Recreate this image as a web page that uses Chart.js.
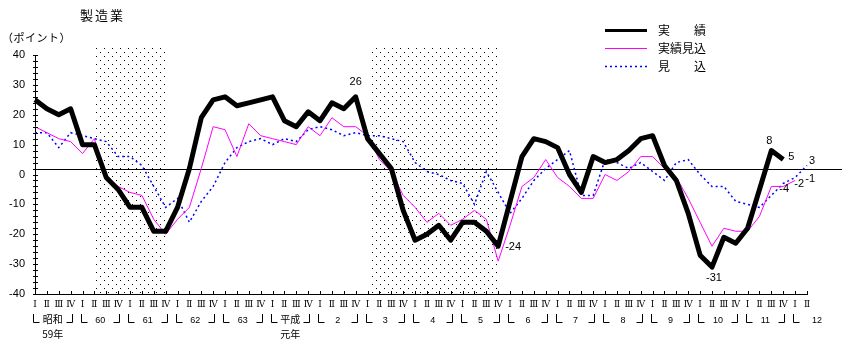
<!DOCTYPE html>
<html><head><meta charset="utf-8">
<script src="https://cdn.jsdelivr.net/npm/chart.js@4/dist/chart.umd.min.js"></script>
<style>html,body{margin:0;padding:0;background:#fff}#wrap{width:850px;height:348px;position:relative}</style>
</head><body><div id="wrap"><canvas id="c" width="850" height="348"></canvas></div>
<script>
// ---- data ----
const chartTitle = '製造業';
const unitLabel = '（ポイント）';
const seriesNames = ['実　　績', '実績見込', '見　　込'];
const eraYears = ['昭和','60','61','62','63','平成','2','3','4','5','6','7','8','9','10','11','12'];
const eraSubLabels = ['59年','','','','','元年','','','','','','','','','','',''];
const quarterNames = ['Ⅰ','Ⅱ','Ⅲ','Ⅳ'];
const quarterCount = 66;
// 実績
const actual = [25,22,20,22, 10,10,-1,-5, -11,-11,-19,-19, -11,2,19,25, 26,23,24,25, 26,18,16,21, 18,24,22,26,
  12,7,2,-12, -22,-20,-17,-22, -16,-16,-19,-24, -9,6,12,11, 9,0,-6,6, 4,5,8,12, 13,3,-2,-13, -27,-31,-21,-23, -18,-5,8,5];
// 実績見込
const estimate = [16,14,12,11, 7,12,-1,-4, -6,-7,-15,-20, -15,-11,2,16, 15,6,17,13, 12,11,10,16, 13,19,16,16,
  13,5,1,-7, -11,-16,-13,-17, -15,-12,-15,-29, -17,-4,-1,5, -1,-4,-8,-8, 0,-2,1,6, 6,2,-1,-8, -16,-24,-18,-19, -19,-14,-4,-4, -2];
// 見込
const forecast = [14,14,9,14, 13,12,11,6, 6,3,-4,-11, -8,-16,-9,-4, 4,9,11,12, 10,12,11,15, 16,15,13,14,
  13,13,12,11, 4,1,0,-2, -3,-10,1,-6, -13,-8,-2,2, 5,8,-7,-7, 5,4,2,4, 1,-2,4,5, 0,-4,-4,-9, -10,-11,-7,-3, -1,3];
const referenceLevel = 1.8;
const recessions = [[4.9, 11.1], [28.2, 39.0]];
const shadeTop = 43.5;
const yMin = -40, yMax = 40, yStep = 10, yMinorStep = 2;
const valueLabels = [
  {ds:0, i:27, dx:0, dy:-15, align:'center'},
  {ds:0, i:39, dx:7, dy:1, align:'left'},
  {ds:0, i:57, dx:2, dy:11, align:'center'},
  {ds:0, i:62, dx:-2, dy:-10, align:'center'},
  {ds:0, i:63, dx:5, dy:-3, align:'left'},
  {ds:1, i:63, dx:1, dy:3, align:'center'},
  {ds:1, i:64, dx:4, dy:3, align:'center'},
  {ds:2, i:64, dx:15, dy:1, align:'center'},
  {ds:2, i:65, dx:5, dy:-5, align:'center'}
];

// ---- derived ----
const categories = [];
for (let i = 0; i < quarterCount; i++) categories.push(quarterNames[i % 4]);

const CJK = '"Noto Sans CJK JP", sans-serif';
const NUM = '"Liberation Sans", Arial, sans-serif';
const ROMAN = '"DejaVu Serif", "Noto Sans CJK JP", serif';

function makePattern(ctx){
  const c = document.createElement('canvas'); c.width = 8; c.height = 8;
  const g = c.getContext('2d'); g.fillStyle = '#000';
  g.fillRect(0,0,1,1); g.fillRect(4,4,1,1);
  return ctx.createPattern(c, 'repeat');
}

const decor = {
  id: 'decor',
  beforeDatasetsDraw(chart){
    const {ctx, chartArea:a, scales:{x, y}} = chart;
    ctx.save();
    ctx.fillStyle = makePattern(ctx);
    const yt = y.getPixelForValue(shadeTop);
    recessions.forEach(([s, e]) => {
      const x0 = x.getPixelForValue(s), x1 = x.getPixelForValue(e);
      ctx.fillRect(Math.round(x0), Math.round(yt), Math.round(x1 - x0), Math.round(a.bottom - yt));
    });
    const yr = Math.round(y.getPixelForValue(referenceLevel)) + 0.5;
    ctx.strokeStyle = '#000'; ctx.lineWidth = 1;
    ctx.beginPath(); ctx.moveTo(a.left, yr); ctx.lineTo(a.right + 35, yr); ctx.stroke();
    ctx.restore();
  },
  afterDraw(chart){
    const {ctx, chartArea:a, scales:{x, y}} = chart;
    ctx.save();
    ctx.strokeStyle = '#000'; ctx.lineWidth = 1;
    // tick marks
    ctx.beginPath();
    for (let i = 0; i < categories.length; i++) {
      const px = Math.round(x.getPixelForValue(i)) + 0.5;
      ctx.moveTo(px, a.bottom); ctx.lineTo(px, a.bottom - 3);
    }
    for (let v = yMin; v <= yMax; v += yMinorStep) {
      const py = Math.round(y.getPixelForValue(v)) + 0.5;
      ctx.moveTo(a.left - 2, py); ctx.lineTo(a.left + 3, py);
    }
    ctx.stroke();
    // year brackets & labels
    const by0 = a.bottom + 20, by1 = a.bottom + 28.5;
    eraYears.forEach((lab, k) => {
      const first = k * 4, last = k * 4 + 3;
      const xI = Math.round(x.getPixelForValue(first)) - 1.5;
      ctx.beginPath();
      ctx.moveTo(xI, by0); ctx.lineTo(xI, by1); ctx.lineTo(xI + 6, by1);
      if (last < categories.length) {
        const xL = Math.round(x.getPixelForValue(last)) + 1.5;
        ctx.moveTo(xL, by0); ctx.lineTo(xL, by1); ctx.lineTo(xL - 6, by1);
      }
      ctx.stroke();
      const cx = x.getPixelForValue(k * 4 + 1.5) + (last < categories.length ? 0 : 4);
      ctx.fillStyle = '#000'; ctx.textAlign = 'center'; ctx.textBaseline = 'alphabetic';
      ctx.font = /^\d+$/.test(lab) ? '9px ' + NUM : '10px ' + CJK;
      ctx.fillText(lab, cx, a.bottom + 29);
      if (eraSubLabels[k]) {
        ctx.font = '10px ' + CJK;
        ctx.fillText(eraSubLabels[k], cx, a.bottom + 44);
      }
    });
    // value labels
    ctx.font = '11px ' + NUM; ctx.textBaseline = 'middle'; ctx.fillStyle = '#000';
    valueLabels.forEach(l => {
      const v = chart.data.datasets[l.ds].data[l.i];
      ctx.textAlign = l.align;
      ctx.fillText(String(v), x.getPixelForValue(l.i) + l.dx, y.getPixelForValue(v) + l.dy);
    });
    // title and unit
    ctx.textAlign = 'left'; ctx.textBaseline = 'middle';
    ctx.font = '13px ' + CJK; ctx.letterSpacing = '2px';
    ctx.fillText(chartTitle, 80, 15);
    ctx.font = '11px ' + CJK; ctx.letterSpacing = '0.5px';
    ctx.fillText(unitLabel, 2, 38);
    ctx.letterSpacing = '0px';
    // legend
    const lx0 = 605, lx1 = 647, ly = [30, 48, 66];
    chart.data.datasets.forEach((ds, k) => {
      ctx.save();
      ctx.strokeStyle = ds.borderColor;
      ctx.lineWidth = k === 0 ? 3 : (k === 2 ? 1.5 : 1);
      ctx.setLineDash(ds.borderDash || []);
      ctx.beginPath(); ctx.moveTo(lx0, ly[k] + 0.5); ctx.lineTo(lx1, ly[k] + 0.5); ctx.stroke();
      ctx.restore();
      ctx.font = '12px ' + CJK; ctx.fillStyle = '#000'; ctx.textAlign = 'left'; ctx.textBaseline = 'middle';
      ctx.fillText(ds.label, 658, ly[k]);
    });
    ctx.restore();
  }
};

new Chart(document.getElementById('c'), {
  type: 'line',
  data: {
    labels: categories,
    datasets: [
      {label: seriesNames[0], data: actual, borderColor: '#000000', borderWidth: 5, pointRadius: 0, borderJoinStyle: 'round', order: 0},
      {label: seriesNames[1], data: estimate, borderColor: '#ff00ff', borderWidth: 1, pointRadius: 0, order: 1},
      {label: seriesNames[2], data: forecast, borderColor: '#0000ff', borderWidth: 1.5, borderDash: [2, 3], pointRadius: 0, order: 2}
    ]
  },
  options: {
    responsive: false, animation: false,
    layout: {padding: {top: 55, right: 43, left: 0, bottom: 0}},
    plugins: {legend: {display: false}, tooltip: {enabled: false}},
    scales: {
      x: {
        type: 'category', offset: false,
        grid: {display: false, drawTicks: false},
        border: {display: true, color: '#000', width: 1},
        ticks: {autoSkip: false, maxRotation: 0, minRotation: 0, padding: 5, color: '#000', font: {family: ROMAN, size: 9}},
        afterFit(s){ s.height = 54; }
      },
      y: {
        min: yMin, max: yMax,
        grid: {display: false, drawTicks: false},
        border: {display: true, color: '#000', width: 1},
        ticks: {stepSize: yStep, padding: 10, color: '#000', font: {family: NUM, size: 11}},
        afterFit(s){ s.width = 35; }
      }
    }
  },
  plugins: [decor]
});
</script></body></html>
